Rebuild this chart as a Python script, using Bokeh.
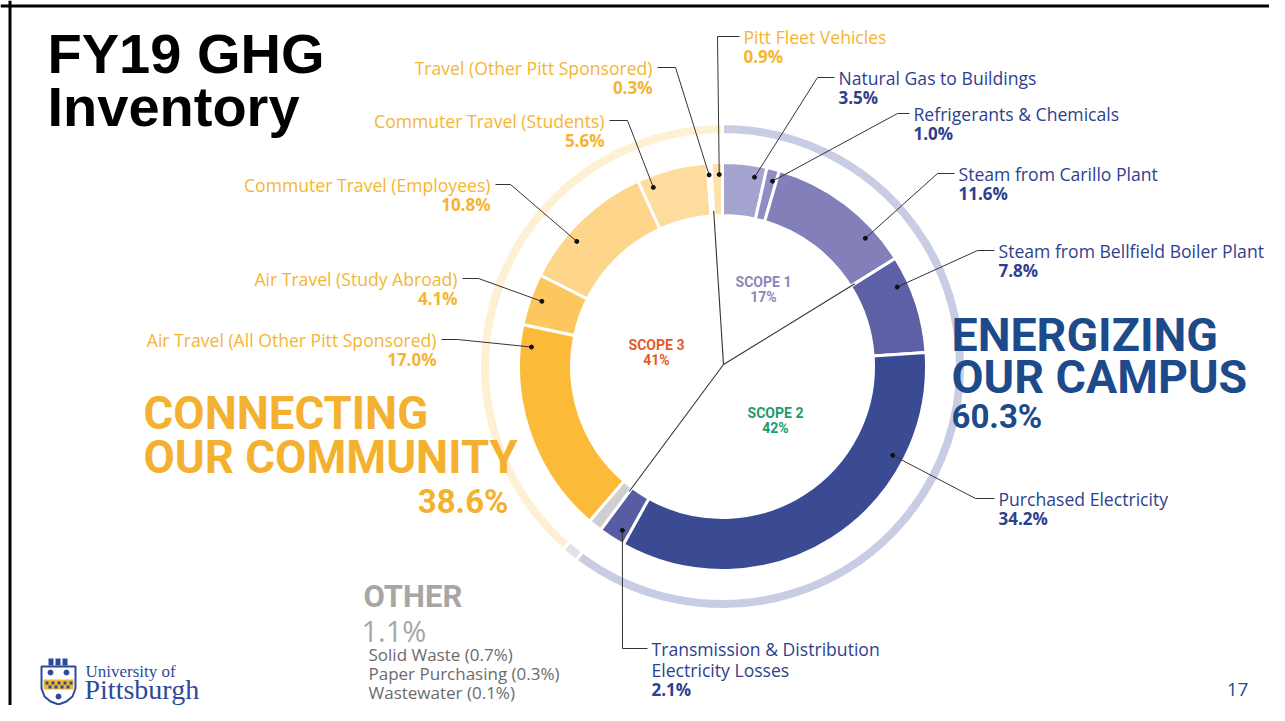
import math
import numpy as np
from bokeh.plotting import figure
from bokeh.models import Span, Range1d
from bokeh.core.properties import value
from bokeh.embed import file_html
from bokeh.resources import INLINE

# ---------------- data ----------------
segments = [
    "Natural Gas to Buildings",
    "Refrigerants & Chemicals",
    "Steam from Carillo Plant",
    "Steam from Bellfield Boiler Plant",
    "Purchased Electricity",
    "Transmission & Distribution Electricity Losses",
    "Other",
    "Air Travel (All Other Pitt Sponsored)",
    "Air Travel (Study Abroad)",
    "Commuter Travel (Employees)",
    "Commuter Travel (Students)",
    "Travel (Other Pitt Sponsored)",
    "Pitt Fleet Vehicles",
]
shares = [3.5, 1.0, 11.6, 7.8, 34.2, 2.1, 1.1, 17.0, 4.1, 10.8, 5.6, 0.3, 0.9]
seg_group = ["campus"] * 6 + ["other"] + ["community"] * 6

groups = ["campus", "other", "community"]
group_titles = [["ENERGIZING", "OUR CAMPUS"], ["OTHER"], ["CONNECTING", "OUR COMMUNITY"]]
group_shares = [60.3, 1.1, 38.6]

scopes = ["SCOPE 1", "SCOPE 2", "SCOPE 3"]
scope_shares = [17, 42, 41]

other_items = ["Solid Waste", "Paper Purchasing", "Wastewater"]
other_shares = [0.7, 0.3, 0.1]

# ---------------- styles ----------------
seg_colors = ["#a5a3d0", "#8f8dc4", "#8380b9", "#5d60a5", "#3a4b94", "#585ca3", "#cfcfcf",
              "#fbba38", "#fcc75e", "#fdd58b", "#fddc9d", "#fee9c4", "#fde1a6"]
group_ring_colors = ["#c9cde3", "#e3e3e3", "#fdf0d3"]
BLUE_TXT = "#2e3f8e"
YEL_TXT = "#f5b533"
GRAY_TXT = "#a6a6a6"
label_color = {"campus": BLUE_TXT, "community": YEL_TXT, "other": GRAY_TXT}

W, H = 1269, 705


def X(px):
    return px


def Y(py):
    return H - py


CX, CY = 722, 366
R_IN, R_OUT = 151, 204
R2_IN, R2_OUT = 232, 243
R_DOT = 192

p = figure(width=W, height=H, x_range=Range1d(0, W), y_range=Range1d(0, H),
           output_backend="svg", toolbar_location=None,
           x_axis_type=None, y_axis_type=None, min_border=0,
           outline_line_color=None)
p.grid.visible = False
p.background_fill_color = "white"
p.border_fill_color = "white"

# slide frame (top and left edges)
p.add_layout(Span(location=Y(5.5), dimension="width", line_color="black", line_width=3))
p.add_layout(Span(location=X(9.5), dimension="height", line_color="black", line_width=3))


def bokeh_angle(theta_deg):
    return math.radians(90 - theta_deg)


def polar(theta_deg, r):
    t = math.radians(theta_deg)
    return CX + r * math.sin(t), CY - r * math.cos(t)


def txt(xs, ys, texts, font, size, color, align="left", bold=False):
    p.text(x=[X(v) for v in xs], y=[Y(v) for v in ys], text=texts,
           text_font=value(font), text_font_style="bold" if bold else "normal",
           text_font_size=size, text_color=color, text_align=align,
           text_baseline="middle")


# ---------------- inner donut ----------------
tot = float(sum(shares))
cum = np.cumsum([0.0] + shares)
th0 = cum[:-1] / tot * 360.0
th1 = cum[1:] / tot * 360.0
n = len(shares)
p.annular_wedge(x=[X(CX)] * n, y=[Y(CY)] * n, inner_radius=R_IN, outer_radius=R_OUT,
                start_angle=[bokeh_angle(a) for a in th0], end_angle=[bokeh_angle(a) for a in th1],
                direction="clock", fill_color=seg_colors, line_color="white", line_width=3)

# ---------------- outer group ring ----------------
gtot = float(sum(group_shares))
gcum = np.cumsum([0.0] + group_shares)
g0 = gcum[:-1] / gtot * 360.0
g1 = gcum[1:] / gtot * 360.0
m = len(group_shares)
p.annular_wedge(x=[X(CX)] * m, y=[Y(CY)] * m, inner_radius=R2_IN, outer_radius=R2_OUT,
                start_angle=[bokeh_angle(a) for a in g0], end_angle=[bokeh_angle(a) for a in g1],
                direction="clock", fill_color=group_ring_colors, line_color="white", line_width=3)

# ---------------- scope divider lines ----------------
idx = {s: i for i, s in enumerate(segments)}
scope_edges = [th0[idx["Pitt Fleet Vehicles"]],
               th1[idx["Steam from Carillo Plant"]],
               th1[idx["Transmission & Distribution Electricity Losses"]]]
for a in scope_edges:
    ex, ey = polar(a, R_IN + 5)
    p.line([X(CX + 1), X(ex)], [Y(CY - 2), Y(ey)], line_color="#333333", line_width=1.1)

scope_pos = {"SCOPE 1": (763, 281), "SCOPE 2": (775, 412), "SCOPE 3": (656, 344)}
scope_colors = {"SCOPE 1": "#8c86b9", "SCOPE 2": "#1e9a6b", "SCOPE 3": "#e35b2a"}
for s, v in zip(scopes, scope_shares):
    sx, sy = scope_pos[s]
    txt([sx, sx], [sy, sy + 15], [s, f"{v}%"], "Roboto", "14px", scope_colors[s],
        align="center", bold=True)

# ---------------- callout labels ----------------
label_layout = {
    "Natural Gas to Buildings": dict(tx=838, ty=77, side="R", ex=817),
    "Refrigerants & Chemicals": dict(tx=913, ty=113, side="R", ex=897),
    "Steam from Carillo Plant": dict(tx=958, ty=173, side="R", ex=937),
    "Steam from Bellfield Boiler Plant": dict(tx=998, ty=250, side="R", ex=977),
    "Purchased Electricity": dict(tx=998, ty=498, side="R", ex=975),
    "Transmission & Distribution Electricity Losses": dict(tx=651, ty=648, side="R", ex=622,
                                                            lines=["Transmission & Distribution", "Electricity Losses"]),
    "Air Travel (All Other Pitt Sponsored)": dict(tx=436, ty=339, side="L", ex=457),
    "Air Travel (Study Abroad)": dict(tx=457, ty=278, side="L", ex=478),
    "Commuter Travel (Employees)": dict(tx=490, ty=184, side="L", ex=510),
    "Commuter Travel (Students)": dict(tx=604, ty=120, side="L", ex=627),
    "Travel (Other Pitt Sponsored)": dict(tx=652, ty=67, side="L", ex=675),
    "Pitt Fleet Vehicles": dict(tx=743, ty=36, side="R", ex=717),
}

lx, ly, dx_, dy_ = [], [], [], []
for i, seg in enumerate(segments):
    if seg not in label_layout:
        continue
    L = label_layout[seg]
    tx, ty, ex = L["tx"], L["ty"], L["ex"]
    ey = ty
    # dot inside the segment, pointing toward the elbow
    el_ang = math.degrees(math.atan2(ex - CX, -(ey - CY))) % 360.0
    a0, a1 = th0[i], th1[i]
    mg = min(0.3 * (a1 - a0), 3.0)
    cand = [el_ang - 360, el_ang, el_ang + 360]
    el_ang = min(cand, key=lambda c: abs(c - (a0 + a1) / 2))
    ang = min(max(el_ang, a0 + mg), a1 - mg)
    dxp, dyp = polar(ang, R_DOT)
    dx_.append(X(dxp))
    dy_.append(Y(dyp))
    hx = tx - 4 if L["side"] == "R" else tx + 5
    lx.append([X(dxp), X(ex), X(hx)])
    ly.append([Y(dyp), Y(ey), Y(ey)])

    col = label_color[seg_group[i]]
    names = L.get("lines", [seg])
    align = "left" if L["side"] == "R" else "right"
    ys = [ty + 21 * k for k in range(len(names))]
    txt([tx] * len(names), ys, names, "Open Sans", "17.6px", col, align=align)
    txt([tx], [ys[-1] + 19.5], [f"{shares[i]:.1f}%"], "Open Sans", "17px", col,
        align=align, bold=True)

p.multi_line(xs=lx, ys=ly, line_color="#333333", line_width=1)
p.scatter(x=dx_, y=dy_, size=4, color="#111111")

# ---------------- group headlines ----------------
gi = {g: i for i, g in enumerate(groups)}
c = gi["campus"]
txt([951, 951], [334, 376], group_titles[c], "Roboto", "46.5px", "#1d4a8b", bold=True)
txt([951], [416], [f"{group_shares[c]:.1f}%"], "Roboto", "33px", "#1d4a8b", bold=True)

c = gi["community"]
txt([143, 143], [413, 457], group_titles[c], "Roboto", "45.5px", "#f4b12f", bold=True)
txt([508], [501], [f"{group_shares[c]:.1f}%"], "Roboto", "33px", "#f4b12f",
    align="right", bold=True)

c = gi["other"]
txt([363], [596], group_titles[c], "Roboto", "31px", GRAY_TXT, bold=True)
txt([361], [630], [f"{group_shares[c]:.1f}%"], "Open Sans", "29px", GRAY_TXT)
txt([368] * len(other_items), [654 + 19 * k for k in range(len(other_items))],
    [f"{a} ({b:.1f}%)" for a, b in zip(other_items, other_shares)],
    "Open Sans", "17px", "#6b6b6b")

# ---------------- title ----------------
txt([47, 47], [53, 106], ["FY19 GHG", "Inventory"], "Liberation Sans", "56px", "black", bold=True)

# page number
txt([1237], [689], ["17"], "Open Sans", "19px", "#1f4a9c", align="center")

# ---------------- logo ----------------
LB = "#2d4a9a"
shield_x = [41, 75, 75, 72, 66, 58, 50, 44, 41]
shield_y = [666, 666, 688, 696, 701, 704, 701, 696, 688]
p.patch(x=[X(v) for v in shield_x], y=[Y(v) for v in shield_y],
        fill_color="white", line_color=LB, line_width=2)
p.quad(left=[X(43)], right=[X(73)], top=[Y(679)], bottom=[Y(689)], fill_color="#f2b632", line_color=None)
cx_ = [45, 51, 57, 63, 69, 48, 54, 60, 66]
cy_ = [681, 681, 681, 681, 681, 685, 685, 685, 685]
p.rect(x=[X(v + 1.5) for v in cx_], y=[Y(v + 1.5) for v in cy_], width=3, height=3,
       fill_color=LB, line_color=None)
p.scatter(x=[X(50), X(66), X(58)], y=[Y(672), Y(672), Y(696)], size=5, color=LB)
p.quad(left=[X(48), X(55), X(62)], right=[X(53), X(60), X(67)], top=[Y(658)] * 3,
       bottom=[Y(665)] * 3, fill_color=LB, line_color=None)
txt([85], [671], ["University of"], "Liberation Serif", "17px", LB)
txt([84], [689], ["Pittsburgh"], "Liberation Serif", "28px", LB)

open("out.html", "w").write(file_html(p, INLINE))
